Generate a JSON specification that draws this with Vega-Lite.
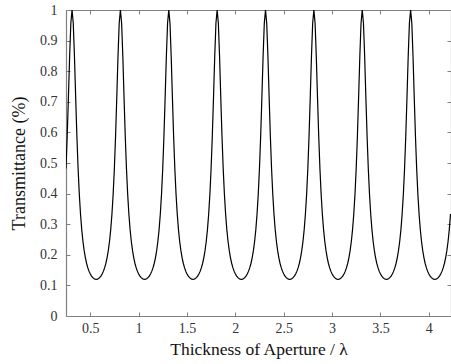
{
  "$schema": "https://vega.github.io/schema/vega-lite/v6.json",
  "autosize": "none",
  "width": 385,
  "height": 306,
  "padding": {"left": 66, "top": 10, "right": 0, "bottom": 48},
  "background": "white",
  "config": {"view": {"stroke": null}, "font": "Liberation Serif", "axis": {"labelFont": "Liberation Serif", "titleFont": "Liberation Serif"}},
  "data": {"values": [
    {"x":0.25,"t":0.4822},{"x":0.2625,"t":0.5881},{"x":0.275,"t":0.7145},{"x":0.2875,"t":0.8478},{"x":0.3,"t":0.9568},
    {"x":0.3125,"t":1},{"x":0.325,"t":0.9568},{"x":0.3375,"t":0.8478},{"x":0.35,"t":0.7145},{"x":0.3625,"t":0.5881},{"x":0.375,"t":0.4822},{"x":0.3875,"t":0.3982},{"x":0.4,"t":0.3331},{"x":0.4125,"t":0.283},{"x":0.425,"t":0.2443},{"x":0.4375,"t":0.2143},{"x":0.45,"t":0.1908},{"x":0.4625,"t":0.1724},{"x":0.475,"t":0.1579},{"x":0.4875,"t":0.1466},{"x":0.5,"t":0.1378},{"x":0.5125,"t":0.131},{"x":0.525,"t":0.126},{"x":0.5375,"t":0.1226},{"x":0.55,"t":0.1207},{"x":0.5625,"t":0.12},{"x":0.575,"t":0.1207},{"x":0.5875,"t":0.1226},{"x":0.6,"t":0.126},{"x":0.6125,"t":0.131},{"x":0.625,"t":0.1378},{"x":0.6375,"t":0.1466},{"x":0.65,"t":0.1579},{"x":0.6625,"t":0.1724},{"x":0.675,"t":0.1908},{"x":0.6875,"t":0.2143},{"x":0.7,"t":0.2443},{"x":0.7125,"t":0.283},{"x":0.725,"t":0.3331},{"x":0.7375,"t":0.3982},{"x":0.75,"t":0.4822},{"x":0.7625,"t":0.5881},{"x":0.775,"t":0.7145},{"x":0.7875,"t":0.8478},{"x":0.8,"t":0.9568},
    {"x":0.8125,"t":1},{"x":0.825,"t":0.9568},{"x":0.8375,"t":0.8478},{"x":0.85,"t":0.7145},{"x":0.8625,"t":0.5881},{"x":0.875,"t":0.4822},{"x":0.8875,"t":0.3982},{"x":0.9,"t":0.3331},{"x":0.9125,"t":0.283},{"x":0.925,"t":0.2443},{"x":0.9375,"t":0.2143},{"x":0.95,"t":0.1908},{"x":0.9625,"t":0.1724},{"x":0.975,"t":0.1579},{"x":0.9875,"t":0.1466},{"x":1.0,"t":0.1378},{"x":1.0125,"t":0.131},{"x":1.025,"t":0.126},{"x":1.0375,"t":0.1226},{"x":1.05,"t":0.1207},{"x":1.0625,"t":0.12},{"x":1.075,"t":0.1207},{"x":1.0875,"t":0.1226},{"x":1.1,"t":0.126},{"x":1.1125,"t":0.131},{"x":1.125,"t":0.1378},{"x":1.1375,"t":0.1466},{"x":1.15,"t":0.1579},{"x":1.1625,"t":0.1724},{"x":1.175,"t":0.1908},{"x":1.1875,"t":0.2143},{"x":1.2,"t":0.2443},{"x":1.2125,"t":0.283},{"x":1.225,"t":0.3331},{"x":1.2375,"t":0.3982},{"x":1.25,"t":0.4822},{"x":1.2625,"t":0.5881},{"x":1.275,"t":0.7145},{"x":1.2875,"t":0.8478},{"x":1.3,"t":0.9568},
    {"x":1.3125,"t":1},{"x":1.325,"t":0.9568},{"x":1.3375,"t":0.8478},{"x":1.35,"t":0.7145},{"x":1.3625,"t":0.5881},{"x":1.375,"t":0.4822},{"x":1.3875,"t":0.3982},{"x":1.4,"t":0.3331},{"x":1.4125,"t":0.283},{"x":1.425,"t":0.2443},{"x":1.4375,"t":0.2143},{"x":1.45,"t":0.1908},{"x":1.4625,"t":0.1724},{"x":1.475,"t":0.1579},{"x":1.4875,"t":0.1466},{"x":1.5,"t":0.1378},{"x":1.5125,"t":0.131},{"x":1.525,"t":0.126},{"x":1.5375,"t":0.1226},{"x":1.55,"t":0.1207},{"x":1.5625,"t":0.12},{"x":1.575,"t":0.1207},{"x":1.5875,"t":0.1226},{"x":1.6,"t":0.126},{"x":1.6125,"t":0.131},{"x":1.625,"t":0.1378},{"x":1.6375,"t":0.1466},{"x":1.65,"t":0.1579},{"x":1.6625,"t":0.1724},{"x":1.675,"t":0.1908},{"x":1.6875,"t":0.2143},{"x":1.7,"t":0.2443},{"x":1.7125,"t":0.283},{"x":1.725,"t":0.3331},{"x":1.7375,"t":0.3982},{"x":1.75,"t":0.4822},{"x":1.7625,"t":0.5881},{"x":1.775,"t":0.7145},{"x":1.7875,"t":0.8478},{"x":1.8,"t":0.9568},
    {"x":1.8125,"t":1},{"x":1.825,"t":0.9568},{"x":1.8375,"t":0.8478},{"x":1.85,"t":0.7145},{"x":1.8625,"t":0.5881},{"x":1.875,"t":0.4822},{"x":1.8875,"t":0.3982},{"x":1.9,"t":0.3331},{"x":1.9125,"t":0.283},{"x":1.925,"t":0.2443},{"x":1.9375,"t":0.2143},{"x":1.95,"t":0.1908},{"x":1.9625,"t":0.1724},{"x":1.975,"t":0.1579},{"x":1.9875,"t":0.1466},{"x":2.0,"t":0.1378},{"x":2.0125,"t":0.131},{"x":2.025,"t":0.126},{"x":2.0375,"t":0.1226},{"x":2.05,"t":0.1207},{"x":2.0625,"t":0.12},{"x":2.075,"t":0.1207},{"x":2.0875,"t":0.1226},{"x":2.1,"t":0.126},{"x":2.1125,"t":0.131},{"x":2.125,"t":0.1378},{"x":2.1375,"t":0.1466},{"x":2.15,"t":0.1579},{"x":2.1625,"t":0.1724},{"x":2.175,"t":0.1908},{"x":2.1875,"t":0.2143},{"x":2.2,"t":0.2443},{"x":2.2125,"t":0.283},{"x":2.225,"t":0.3331},{"x":2.2375,"t":0.3982},{"x":2.25,"t":0.4822},{"x":2.2625,"t":0.5881},{"x":2.275,"t":0.7145},{"x":2.2875,"t":0.8478},{"x":2.3,"t":0.9568},
    {"x":2.3125,"t":1},{"x":2.325,"t":0.9568},{"x":2.3375,"t":0.8478},{"x":2.35,"t":0.7145},{"x":2.3625,"t":0.5881},{"x":2.375,"t":0.4822},{"x":2.3875,"t":0.3982},{"x":2.4,"t":0.3331},{"x":2.4125,"t":0.283},{"x":2.425,"t":0.2443},{"x":2.4375,"t":0.2143},{"x":2.45,"t":0.1908},{"x":2.4625,"t":0.1724},{"x":2.475,"t":0.1579},{"x":2.4875,"t":0.1466},{"x":2.5,"t":0.1378},{"x":2.5125,"t":0.131},{"x":2.525,"t":0.126},{"x":2.5375,"t":0.1226},{"x":2.55,"t":0.1207},{"x":2.5625,"t":0.12},{"x":2.575,"t":0.1207},{"x":2.5875,"t":0.1226},{"x":2.6,"t":0.126},{"x":2.6125,"t":0.131},{"x":2.625,"t":0.1378},{"x":2.6375,"t":0.1466},{"x":2.65,"t":0.1579},{"x":2.6625,"t":0.1724},{"x":2.675,"t":0.1908},{"x":2.6875,"t":0.2143},{"x":2.7,"t":0.2443},{"x":2.7125,"t":0.283},{"x":2.725,"t":0.3331},{"x":2.7375,"t":0.3982},{"x":2.75,"t":0.4822},{"x":2.7625,"t":0.5881},{"x":2.775,"t":0.7145},{"x":2.7875,"t":0.8478},{"x":2.8,"t":0.9568},
    {"x":2.8125,"t":1},{"x":2.825,"t":0.9568},{"x":2.8375,"t":0.8478},{"x":2.85,"t":0.7145},{"x":2.8625,"t":0.5881},{"x":2.875,"t":0.4822},{"x":2.8875,"t":0.3982},{"x":2.9,"t":0.3331},{"x":2.9125,"t":0.283},{"x":2.925,"t":0.2443},{"x":2.9375,"t":0.2143},{"x":2.95,"t":0.1908},{"x":2.9625,"t":0.1724},{"x":2.975,"t":0.1579},{"x":2.9875,"t":0.1466},{"x":3.0,"t":0.1378},{"x":3.0125,"t":0.131},{"x":3.025,"t":0.126},{"x":3.0375,"t":0.1226},{"x":3.05,"t":0.1207},{"x":3.0625,"t":0.12},{"x":3.075,"t":0.1207},{"x":3.0875,"t":0.1226},{"x":3.1,"t":0.126},{"x":3.1125,"t":0.131},{"x":3.125,"t":0.1378},{"x":3.1375,"t":0.1466},{"x":3.15,"t":0.1579},{"x":3.1625,"t":0.1724},{"x":3.175,"t":0.1908},{"x":3.1875,"t":0.2143},{"x":3.2,"t":0.2443},{"x":3.2125,"t":0.283},{"x":3.225,"t":0.3331},{"x":3.2375,"t":0.3982},{"x":3.25,"t":0.4822},{"x":3.2625,"t":0.5881},{"x":3.275,"t":0.7145},{"x":3.2875,"t":0.8478},{"x":3.3,"t":0.9568},
    {"x":3.3125,"t":1},{"x":3.325,"t":0.9568},{"x":3.3375,"t":0.8478},{"x":3.35,"t":0.7145},{"x":3.3625,"t":0.5881},{"x":3.375,"t":0.4822},{"x":3.3875,"t":0.3982},{"x":3.4,"t":0.3331},{"x":3.4125,"t":0.283},{"x":3.425,"t":0.2443},{"x":3.4375,"t":0.2143},{"x":3.45,"t":0.1908},{"x":3.4625,"t":0.1724},{"x":3.475,"t":0.1579},{"x":3.4875,"t":0.1466},{"x":3.5,"t":0.1378},{"x":3.5125,"t":0.131},{"x":3.525,"t":0.126},{"x":3.5375,"t":0.1226},{"x":3.55,"t":0.1207},{"x":3.5625,"t":0.12},{"x":3.575,"t":0.1207},{"x":3.5875,"t":0.1226},{"x":3.6,"t":0.126},{"x":3.6125,"t":0.131},{"x":3.625,"t":0.1378},{"x":3.6375,"t":0.1466},{"x":3.65,"t":0.1579},{"x":3.6625,"t":0.1724},{"x":3.675,"t":0.1908},{"x":3.6875,"t":0.2143},{"x":3.7,"t":0.2443},{"x":3.7125,"t":0.283},{"x":3.725,"t":0.3331},{"x":3.7375,"t":0.3982},{"x":3.75,"t":0.4822},{"x":3.7625,"t":0.5881},{"x":3.775,"t":0.7145},{"x":3.7875,"t":0.8478},{"x":3.8,"t":0.9568},
    {"x":3.8125,"t":1},{"x":3.825,"t":0.9568},{"x":3.8375,"t":0.8478},{"x":3.85,"t":0.7145},{"x":3.8625,"t":0.5881},{"x":3.875,"t":0.4822},{"x":3.8875,"t":0.3982},{"x":3.9,"t":0.3331},{"x":3.9125,"t":0.283},{"x":3.925,"t":0.2443},{"x":3.9375,"t":0.2143},{"x":3.95,"t":0.1908},{"x":3.9625,"t":0.1724},{"x":3.975,"t":0.1579},{"x":3.9875,"t":0.1466},{"x":4.0,"t":0.1378},{"x":4.0125,"t":0.131},{"x":4.025,"t":0.126},{"x":4.0375,"t":0.1226},{"x":4.05,"t":0.1207},{"x":4.0625,"t":0.12},{"x":4.075,"t":0.1207},{"x":4.0875,"t":0.1226},{"x":4.1,"t":0.126},{"x":4.1125,"t":0.131},{"x":4.125,"t":0.1378},{"x":4.1375,"t":0.1466},{"x":4.15,"t":0.1579},{"x":4.1625,"t":0.1724},{"x":4.175,"t":0.1908},{"x":4.1875,"t":0.2143},{"x":4.2,"t":0.2443},{"x":4.2125,"t":0.283},{"x":4.225,"t":0.3331}
  ]},
  "layer": [
    {
      "mark": {"type": "line", "color": "black", "strokeWidth": 1.2, "clip": true},
      "encoding": {
        "x": {"field": "x", "type": "quantitative", "scale": {"domain": [0.25, 4.23], "nice": false, "zero": false},
          "axis": {"orient": "bottom", "values": [0.5, 1, 1.5, 2, 2.5, 3, 3.5, 4], "format": "~g", "grid": false,
            "tickSize": -4, "labelPadding": 9, "domainColor": "#808080", "tickColor": "#808080", "domainWidth": 1.2,
            "labelFont": "Liberation Serif", "labelFontSize": 14, "labelColor": "#333",
            "title": "Thickness of Aperture / λ", "titleFont": "Liberation Serif", "titleFontSize": 17.5, "titleFontWeight": "normal", "titleColor": "#111", "titlePadding": 5}},
        "y": {"field": "t", "type": "quantitative", "scale": {"domain": [0, 1], "nice": false},
          "axis": {"orient": "left", "values": [0, 0.1, 0.2, 0.3, 0.4, 0.5, 0.6, 0.7, 0.8, 0.9, 1], "format": "~g", "grid": false,
            "tickSize": -4, "labelPadding": 13, "domainColor": "#808080", "tickColor": "#808080", "domainWidth": 1.2,
            "labelFont": "Liberation Serif", "labelFontSize": 14, "labelColor": "#333",
            "title": "Transmittance (%)", "titleFont": "Liberation Serif", "titleFontSize": 18, "titleFontWeight": "normal", "titleColor": "#111", "titlePadding": 11}}
      }
    },
    {
      "mark": {"type": "line", "opacity": 0},
      "encoding": {
        "x": {"field": "x", "type": "quantitative",
          "axis": {"orient": "top", "values": [0.5, 1, 1.5, 2, 2.5, 3, 3.5, 4], "labels": false, "title": null, "grid": false,
            "tickSize": -4, "domainColor": "#808080", "tickColor": "#808080", "domainWidth": 1.2}},
        "y": {"field": "t", "type": "quantitative",
          "axis": {"orient": "right", "values": [0, 0.1, 0.2, 0.3, 0.4, 0.5, 0.6, 0.7, 0.8, 0.9, 1], "labels": false, "title": null, "grid": false,
            "tickSize": -4, "domainColor": "#808080", "tickColor": "#808080", "domainWidth": 1.2}}
      }
    }
  ],
  "resolve": {"axis": {"x": "independent", "y": "independent"}}
}
